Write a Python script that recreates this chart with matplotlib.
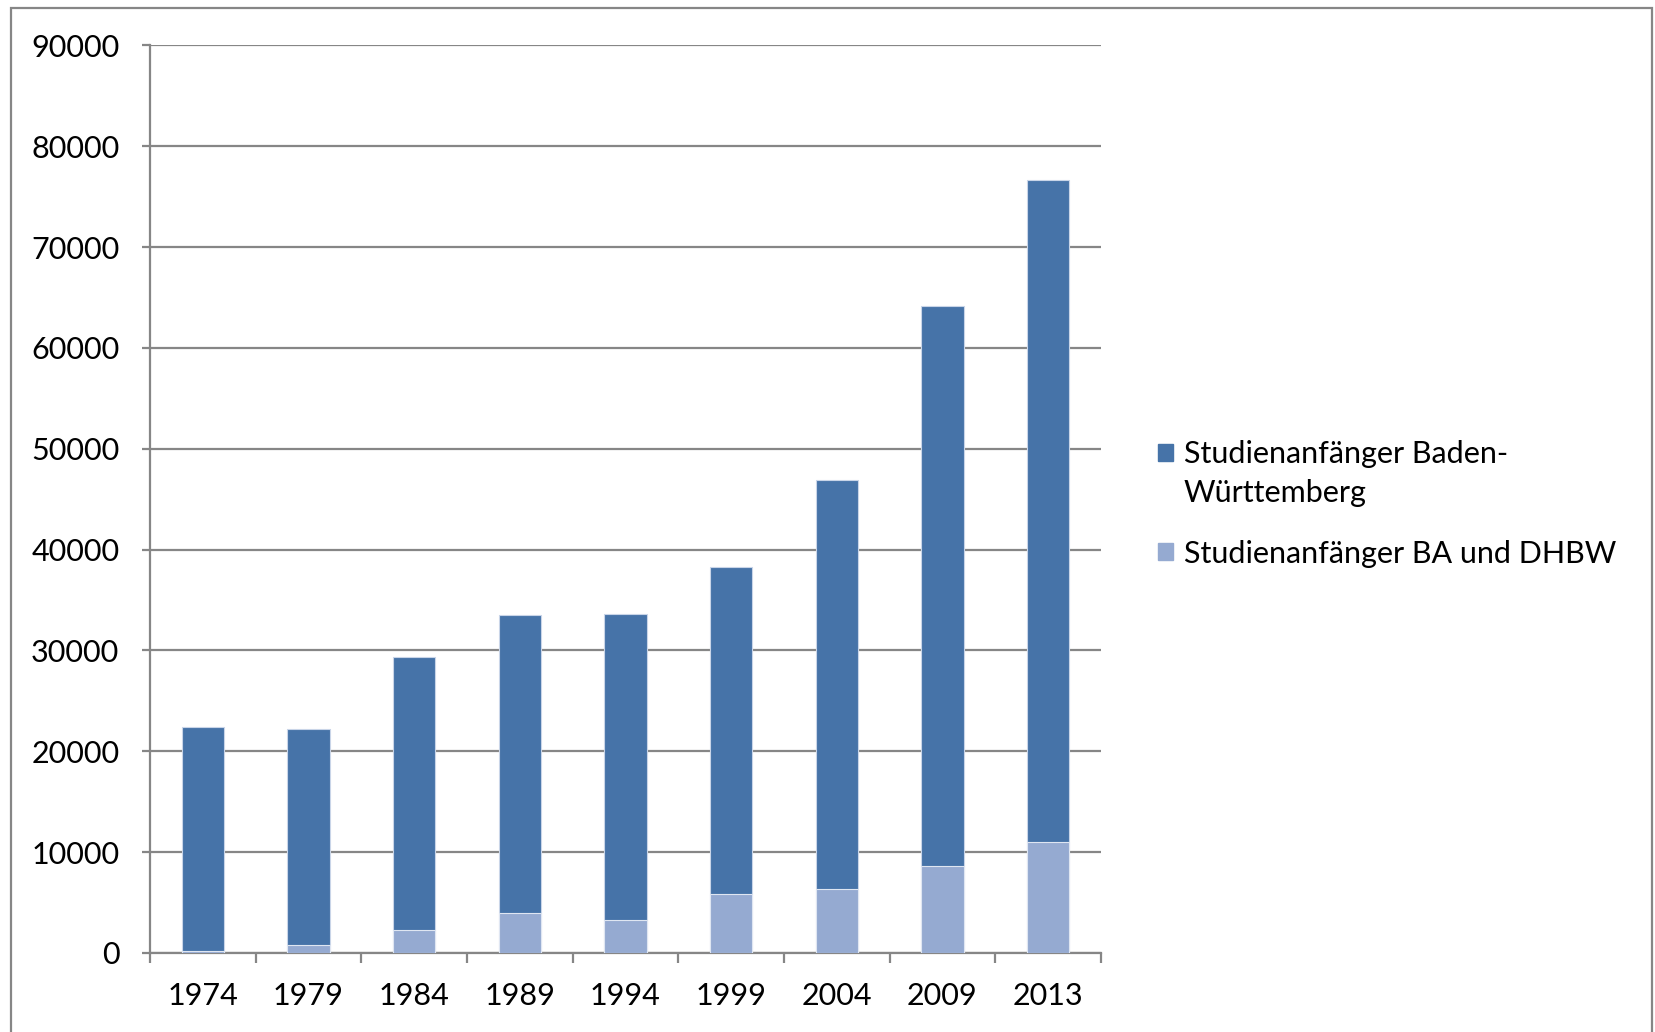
import numpy as np
import matplotlib.pyplot as plt
from matplotlib.patches import Rectangle
from matplotlib.legend_handler import HandlerPatch

plt.rcParams['font.family'] = ['Lato', 'DejaVu Sans']

jahre = ['1974', '1979', '1984', '1989', '1994', '1999', '2004', '2009', '2013']
# Studienanfänger gesamt (Baden-Württemberg) und davon BA / DHBW
bw = [22400, 22250, 29300, 33500, 33600, 38300, 46850, 64180, 76680]
ba = [170, 760, 2250, 3910, 3250, 5860, 6360, 8610, 10990]

dunkel = '#4673a8'
hell = '#95aad1'
grau = '#868686'

fig = plt.figure(figsize=(16.55, 10.32), dpi=100)
ax = fig.add_axes([0.0906, 0.0767, 0.5746, 0.8793])

x = np.arange(len(jahre))
ax.bar(x, bw, width=0.4, color=dunkel, edgecolor='#c9d5e8', linewidth=0.8, zorder=3)
ax.bar(x, ba, width=0.4, color=hell, edgecolor='#dfe6f2', linewidth=0.8, zorder=3)

ax.set_xlim(-0.5, len(jahre) - 0.5)
ax.set_ylim(0, 90000)
ax.set_yticks(np.arange(0, 90001, 10000))
ax.yaxis.grid(True, color=grau, linewidth=1.6, zorder=0)

ax.set_xticks(x)
ax.set_xticklabels(jahre)
ax.set_xticks(np.arange(-0.5, len(jahre)), minor=True)
ax.tick_params(axis='x', which='major', length=0, pad=21, labelsize=22)
ax.tick_params(axis='x', which='minor', length=7.5, width=1.6, color=grau)
ax.tick_params(axis='y', length=6, width=1.6, color=grau, pad=16, labelsize=22)

for s in ['top', 'right']:
    ax.spines[s].set_visible(False)
for s in ['left', 'bottom']:
    ax.spines[s].set_color(grau)
    ax.spines[s].set_linewidth(1.6)


# Legende: Quadrat an der ersten Zeile ausrichten
def oben(legend, orig_handle, xdescent, ydescent, width, height, fontsize):
    return Rectangle((-xdescent, -ydescent + 15.5), width, height)


h1 = Rectangle((0, 0), 1, 1, color=dunkel)
h2 = Rectangle((0, 0), 1, 1, color=hell)
leg = ax.legend([h1, h2], ['Studienanfänger Baden-\nWürttemberg', 'Studienanfänger BA und DHBW'],
                loc='upper left', bbox_to_anchor=(0.6996, 0.574),
                bbox_transform=fig.transFigure, frameon=False, fontsize=22,
                handlelength=0.5, handleheight=0.5, handletextpad=0.35,
                labelspacing=1.06, borderpad=0, borderaxespad=0,
                handler_map={h1: HandlerPatch(patch_func=oben)})
for t in leg.get_texts():
    t.set_linespacing(1.5)

fig.add_artist(Rectangle((0.0066, -0.02), 0.9914, 1.012, transform=fig.transFigure,
                         fill=False, edgecolor=grau, linewidth=1.6))

fig.savefig('out.png', dpi=100)
